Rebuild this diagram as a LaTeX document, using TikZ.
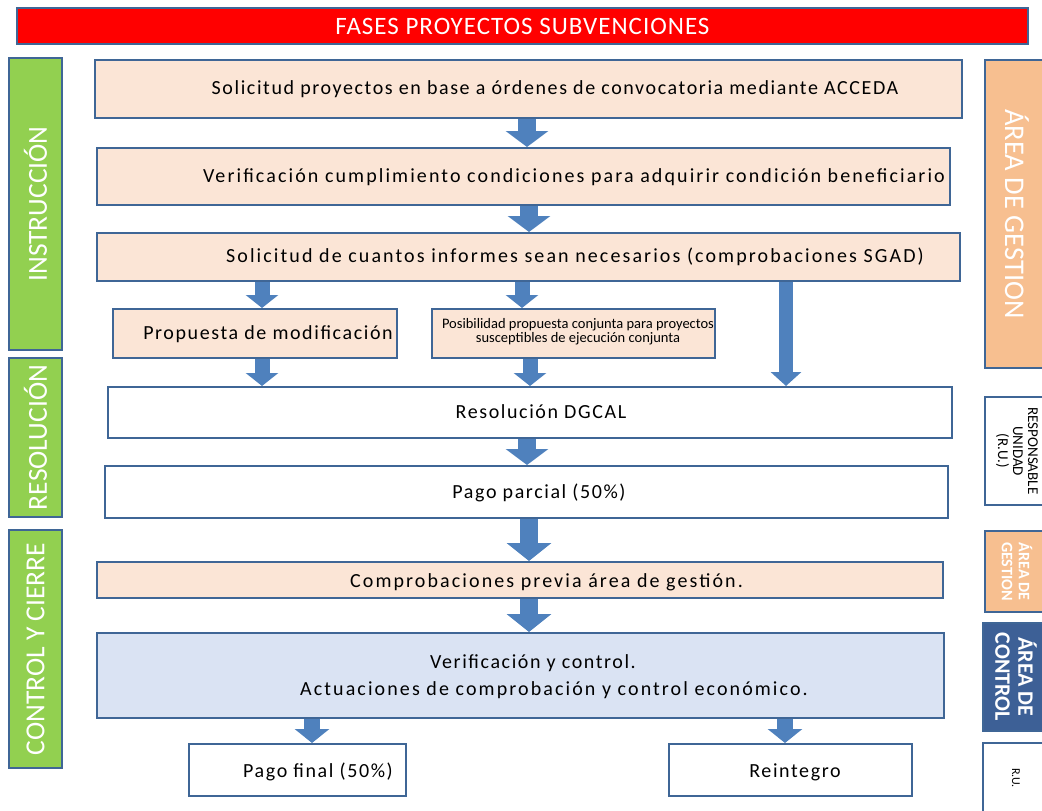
\documentclass[tikz,border=0pt]{standalone}
\usepackage{fontspec}
\setmainfont{Carlito}
\newfontfamily\spaced[LetterSpace=8]{Carlito}
\newfontfamily\spacedB[LetterSpace=10.5]{Carlito}
\newfontfamily\tspaced[LetterSpace=4]{Carlito}
\usetikzlibrary{arrows.meta}
\definecolor{peach}{HTML}{FBE5D6}
\definecolor{bord}{HTML}{3F6696}
\definecolor{gr}{HTML}{92D050}
\definecolor{areag}{HTML}{F7BF90}
\definecolor{areac}{HTML}{3D6096}
\definecolor{lblue}{HTML}{DAE3F3}
\definecolor{arr}{HTML}{4F81BD}
\definecolor{titlered}{HTML}{FF0000}
\tikzset{
  boxbase/.style={draw=bord, line width=2pt, rectangle, inner sep=0pt},
  pbox/.style={boxbase, fill=peach},
  wbox/.style={boxbase, fill=white},
  bbox/.style={boxbase, fill=lblue},
  gbox/.style={boxbase, fill=gr, text=white, rotate=90, font=\fontsize{27.5}{30}\selectfont},
  rbox/.style={boxbase, rotate=-90, align=center},
  maintxt/.style={inner sep=0pt, font=\spaced\fontsize{20}{22}\selectfont},
  widetxt/.style={inner sep=0pt, font=\spacedB\fontsize{20}{22}\selectfont},
  barrow/.style n args={3}{draw=arr, line width=#1, -{Triangle[width=#2, length=#3]}},
}
\begin{document}
\begin{tikzpicture}[x=1pt,y=-1pt]
\useasboundingbox (0,0) rectangle (1042,811);
% title
\node[boxbase, fill=titlered, minimum width=1011, minimum height=36, text=white,
  font=\tspaced\fontsize{25}{27}\selectfont] (title) at (522.5,26) {FASES PROYECTOS SUBVENCIONES};
% left phase labels
\node[gbox, minimum width=292, minimum height=53] (instr) at (35.5,204) {INSTRUCCIÓN};
\node[gbox, minimum width=159, minimum height=53] (resol) at (35.5,437.5) {RESOLUCIÓN};
\node[gbox, minimum width=238, minimum height=53] (ctrl) at (35.5,649) {CONTROL Y CIERRE};
% right area labels
\node[rbox, fill=areag, text=white, minimum width=308, minimum height=64,
  font=\fontsize{28.5}{30}\selectfont] (ag1) at (1017,214) {ÁREA DE GESTION};
\node[rbox, fill=white, minimum width=108, minimum height=64,
  font=\fontsize{15}{15}\selectfont] (ru1) at (1017,451) {RESPONSABLE\\UNIDAD\\(R.U.)};
\node[rbox, fill=areag, text=white, minimum width=81, minimum height=64,
  font=\bfseries\fontsize{16}{17}\selectfont] (ag2) at (1017,571.5) {ÁREA DE\\GESTION};
\node[rbox, fill=areac, text=white, minimum width=108, minimum height=66,
  font=\bfseries\fontsize{22}{23}\selectfont] (ac) at (1016,677) {ÁREA DE\\CONTROL};
\node[rbox, fill=white, minimum width=70, minimum height=66,
  font=\fontsize{12}{13}\selectfont] (ru2) at (1016,778) {R.U.};
% main boxes
\node[pbox, minimum width=867, minimum height=58] (b1) at (528.5,89) {};
\node[maintxt] (t1) at (555,89) {Solicitud proyectos en base a órdenes de convocatoria mediante ACCEDA};
\node[pbox, minimum width=853, minimum height=57] (b2) at (523.5,176.5) {};
\node[widetxt] (t2) at (574,177) {Verificación cumplimiento condiciones para adquirir condición beneficiario};
\node[pbox, minimum width=863, minimum height=48] (b3) at (528.5,257) {};
\node[widetxt] (t3) at (575,257) {Solicitud de cuantos informes sean necesarios (comprobaciones SGAD)};
\node[pbox, minimum width=284, minimum height=49] (b4) at (255,333.5) {};
\node[maintxt] (t4) at (268,334) {Propuesta de modificación};
\node[pbox, minimum width=283, minimum height=49] (b5) at (573.5,333.5) {};
\node[inner sep=0pt, align=center, font=\fontsize{14.5}{14}\selectfont] (t5) at (578,332)
  {Posibilidad propuesta conjunta para proyectos\\susceptibles de ejecución conjunta};
\node[wbox, minimum width=844, minimum height=51] (b6) at (530,412.5) {};
\node[maintxt] (t6) at (541,412) {Resolución DGCAL};
\node[wbox, minimum width=843, minimum height=52] (b7) at (526.5,492) {};
\node[maintxt] (t7) at (539,493) {Pago parcial (50\%)};
\node[pbox, minimum width=846, minimum height=36] (b8) at (520,580) {};
\node[widetxt] (t8) at (546.5,582) {Comprobaciones previa área de gestión.};
\node[bbox, minimum width=847, minimum height=85] (b9) at (520.5,675.5) {};
\node[maintxt] (t9a) at (533,663) {Verificación y control.};
\node[widetxt] (t9b) at (554,690) {Actuaciones de comprobación y control económico.};
\node[wbox, minimum width=217, minimum height=52] (b10) at (297.5,770) {};
\node[maintxt] (t10) at (318,772) {Pago final (50\%)};
\node[wbox, minimum width=243, minimum height=52] (b11) at (790.5,770) {};
\node[maintxt] (t11) at (795,772) {Reintegro};
% arrow x positions
\coordinate (xa) at (527,0);
\coordinate (xb) at (529,0);
\coordinate (xc) at (262,0);
\coordinate (xd) at (522,0);
\coordinate (xe) at (786,0);
\coordinate (xf) at (530,0);
\coordinate (xg) at (312,0);
\coordinate (xh) at (785,0);
% arrows
\draw[barrow={18pt}{42pt}{16pt}] (b1.south -| xa) -- (b2.north -| xa);
\draw[barrow={18pt}{42pt}{16pt}] (b2.south -| xb) -- (b3.north -| xb);
\draw[barrow={15pt}{32pt}{13pt}] (b3.south -| xc) -- (b4.north -| xc);
\draw[barrow={15pt}{32pt}{13pt}] (b3.south -| xd) -- (b5.north -| xd);
\draw[barrow={14pt}{30pt}{14pt}] (b3.south -| xe) -- (b6.north -| xe);
\draw[barrow={15pt}{32pt}{13pt}] (b4.south -| xc) -- (b6.north -| xc);
\draw[barrow={15pt}{32pt}{13pt}] (b5.south -| xf) -- (b6.north -| xf);
\draw[barrow={18pt}{42pt}{16pt}] (b6.south -| xa) -- (b7.north -| xa);
\draw[barrow={18pt}{44pt}{18pt}] (b7.south -| xb) -- (b8.north -| xb);
\draw[barrow={18pt}{44pt}{18pt}] (b8.south -| xb) -- (b9.north -| xb);
\draw[barrow={16pt}{34pt}{14pt}] (b9.south -| xg) -- (b10.north -| xg);
\draw[barrow={16pt}{34pt}{14pt}] (b9.south -| xh) -- (b11.north -| xh);
\end{tikzpicture}
\end{document}
